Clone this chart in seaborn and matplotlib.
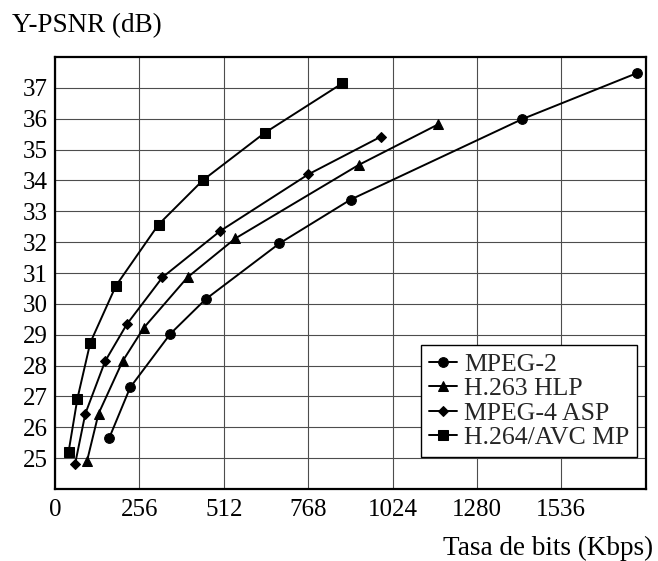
import matplotlib
matplotlib.use("Agg")
import matplotlib.pyplot as plt
import seaborn as sns
import pandas as pd
import numpy as np

# Rate-distortion points per codec (bit rate in Kbps, luma PSNR in dB)
mpeg2_rate = [164, 228, 350, 457, 681, 897, 1418, 1766]
mpeg2_psnr = [25.64, 27.29, 29.03, 30.15, 31.96, 33.38, 35.99, 37.48]

h263_rate = [97, 132, 205, 269, 402, 547, 921, 1163]
h263_psnr = [24.90, 26.44, 28.14, 29.22, 30.86, 32.12, 34.50, 35.82]

mpeg4_rate = [61, 92, 152, 218, 326, 501, 769, 989]
mpeg4_psnr = [24.81, 26.44, 28.14, 29.34, 30.86, 32.36, 34.20, 35.42]

h264_rate = [41, 68, 107, 185, 314, 449, 636, 872]
h264_psnr = [25.19, 26.93, 28.74, 30.59, 32.57, 34.01, 35.54, 37.15]

codecs = ["MPEG-2", "H.263 HLP", "MPEG-4 ASP", "H.264/AVC MP"]
markers = ["o", "^", "D", "s"]
marker_sizes = [7, 7, 5.5, 6.5]

x_ticks = [0, 256, 512, 768, 1024, 1280, 1536]
y_ticks = [25, 26, 27, 28, 29, 30, 31, 32, 33, 34, 35, 36, 37]

frames = []
for name, r, p in zip(codecs,
                      [mpeg2_rate, h263_rate, mpeg4_rate, h264_rate],
                      [mpeg2_psnr, h263_psnr, mpeg4_psnr, h264_psnr]):
    frames.append(pd.DataFrame({"rate": r, "psnr": p, "codec": name}))
df = pd.concat(frames, ignore_index=True)

sns.set_theme(style="white")
plt.rcParams["font.family"] = ["Liberation Serif", "DejaVu Serif"]

fig = plt.figure(figsize=(6.58, 5.61), dpi=100)
ax = fig.add_axes([55 / 658, 1 - 489 / 561, (645.7 - 55) / 658, (489 - 57) / 561])

ax.set_xlim(0, 1792)
ax.set_ylim(24, 38)
ax.set_xticks(x_ticks)
ax.set_yticks(y_ticks)
ax.grid(True, color="#4d4d4d", linewidth=0.8)
ax.set_axisbelow(True)

for name, mk, ms in zip(codecs, markers, marker_sizes):
    sub = df[df["codec"] == name]
    sns.lineplot(data=sub, x="rate", y="psnr", ax=ax, color="black",
                 linewidth=1.4, marker=mk, markersize=ms,
                 markeredgecolor="black", markerfacecolor="black",
                 label=name, sort=False, estimator=None)

for side in ["left", "bottom", "right", "top"]:
    ax.spines[side].set_color("black")
    ax.spines[side].set_linewidth(1.6)

ax.tick_params(axis="both", direction="in", length=7, width=1.2,
               labelsize=18, colors="black", pad=7)
ax.tick_params(axis="y", length=0, pad=5)
ax.set_xlabel("")
ax.set_ylabel("")

fig.text(12 / 658, 1 - 26 / 561, "Y-PSNR (dB)", fontsize=19.5,
         ha="left", va="center", color="black")
fig.text(653 / 658, 1 - 548 / 561, "Tasa de bits (Kbps)", fontsize=19.5,
         ha="right", va="center", color="black")

leg = ax.legend(loc="lower right", bbox_to_anchor=(0.985, 0.075),
                fontsize=18.5, frameon=True, fancybox=False,
                handlelength=1.1, handletextpad=0.25, borderpad=0.3,
                labelspacing=0.05, borderaxespad=0)
leg.get_frame().set_edgecolor("black")
leg.get_frame().set_linewidth(1.0)
leg.get_frame().set_alpha(1)

fig.savefig("out.png", dpi=100)
